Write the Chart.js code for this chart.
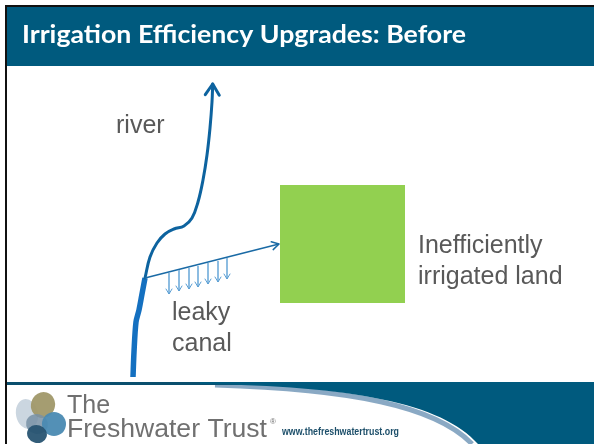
<!DOCTYPE html>
<html>
<head>
<meta charset="utf-8">
<script src="https://cdn.jsdelivr.net/npm/chart.js@4.4.1/dist/chart.umd.min.js"></script>
<style>
  html, body { margin: 0; padding: 0; background: #fff; }
  canvas { display: block; }
</style>
</head>
<body>
<canvas id="slide" width="594" height="444"></canvas>
<script>
// diagram data, in slide units (0..594 across, 0..444 down)
const riverLowX = [133, 134, 136, 139, 142, 145];
const riverLowY = [377, 352, 322, 310, 294, 278];
const riverUpX = [145, 150, 157, 165, 174, 184, 192, 198, 203, 207, 210, 212, 212.7];
const riverUpY = [278, 257, 243, 234, 229, 226, 218, 202, 180, 155, 128, 102, 84];
const canalX = [145, 279];
const canalY = [278, 244];
const leakX = [169, 179, 189, 198, 208, 218, 227];
const leakTop = [273, 270, 268, 266, 263, 261, 258];
const leakBottom = [294, 291, 289, 287, 284, 282, 279];
const landX = [280, 405];
const landY = [185, 303];

const titleText = "Irrigation Efficiency Upgrades: Before";
const labelTexts = [["river"], ["leaky", "canal"], ["Inefficiently", "irrigated land"]];
const labelAnchors = [[116, 133], [172, 320], [418, 253]];

const BLUE_DARK = "#0d639f";
const BLUE_THICK = "#1470c0";
const TEAL = "#005a7e";

function pts(xs, ys) {
  return xs.map((x, i) => ({ x, y: ys[i] }));
}

// leak arrows as one dataset with gaps between them
const leakPts = [];
leakX.forEach((x, i) => {
  leakPts.push({ x, y: leakTop[i] }, { x, y: leakBottom[i] }, { x, y: null });
});

function arrowHead(ctx, tipX, tipY, fromX, fromY, len, half, color, width) {
  const a = Math.atan2(tipY - fromY, tipX - fromX);
  ctx.save();
  ctx.strokeStyle = color;
  ctx.lineWidth = width;
  ctx.lineCap = "round";
  ctx.lineJoin = "round";
  ctx.beginPath();
  ctx.moveTo(tipX - len * Math.cos(a) + half * Math.sin(a), tipY - len * Math.sin(a) - half * Math.cos(a));
  ctx.lineTo(tipX, tipY);
  ctx.lineTo(tipX - len * Math.cos(a) - half * Math.sin(a), tipY - len * Math.sin(a) + half * Math.cos(a));
  ctx.stroke();
  ctx.restore();
}

const slideChrome = {
  id: "slideChrome",
  beforeDatasetsDraw(chart) {
    const { ctx, scales: { x, y } } = chart;
    ctx.save();
    // header band
    ctx.fillStyle = "#fff";
    ctx.fillRect(0, 0, 594, 444);
    ctx.fillStyle = "#111";
    ctx.fillRect(5, 5, 589, 2);
    ctx.fillStyle = TEAL;
    ctx.fillRect(7, 7, 587, 59);
    // title, squeezed to the width of the original
    ctx.fillStyle = "#fff";
    ctx.font = "bold 25px Lato, 'Open Sans', sans-serif";
    ctx.textBaseline = "alphabetic";
    const w = ctx.measureText(titleText).width;
    ctx.save();
    ctx.translate(22, 43);
    ctx.scale(444 / w, 1);
    ctx.fillText(titleText, 0, 0);
    ctx.restore();

    // green field
    const lx0 = x.getPixelForValue(landX[0]), lx1 = x.getPixelForValue(landX[1]);
    const ly0 = y.getPixelForValue(landY[0]), ly1 = y.getPixelForValue(landY[1]);
    ctx.fillStyle = "#92d050";
    ctx.fillRect(lx0, ly0, lx1 - lx0, ly1 - ly0);

    // footer
    ctx.fillStyle = "#fff";
    ctx.fillRect(7, 383, 587, 61);
    // light edge of the swoosh
    ctx.beginPath();
    ctx.moveTo(215, 385);
    ctx.bezierCurveTo(350, 389, 436, 406, 472, 444);
    ctx.strokeStyle = "rgba(125,160,190,0.9)";
    ctx.lineWidth = 5;
    ctx.stroke();
    ctx.fillStyle = "#0b4f6e";
    ctx.fillRect(7, 382, 587, 3);
    ctx.beginPath();
    ctx.moveTo(200, 384);
    ctx.bezierCurveTo(352, 386, 442, 403, 478, 444);
    ctx.lineTo(594, 444);
    ctx.lineTo(594, 382);
    ctx.lineTo(200, 382);
    ctx.closePath();
    ctx.fillStyle = TEAL;
    ctx.fill();

    // logo blobs
    const blobs = [
      [27, 414, 11, 15, -0.2, "rgba(200,212,222,0.95)"],
      [43, 405, 12, 13, 0.3, "rgba(160,152,105,0.95)"],
      [37, 424, 11, 10, 0.2, "rgba(120,145,165,0.85)"],
      [54, 424, 12, 12, 0.4, "rgba(74,138,178,0.95)"],
      [37, 434, 10, 9, 0.3, "rgba(40,84,114,0.95)"]
    ];
    blobs.forEach(([cx, cy, rx, ry, rot, col]) => {
      ctx.beginPath();
      ctx.ellipse(cx, cy, rx, ry, rot, 0, Math.PI * 2);
      ctx.fillStyle = col;
      ctx.fill();
    });

    ctx.fillStyle = "#707070";
    ctx.font = "25px 'Liberation Sans', Arial, sans-serif";
    ctx.fillText("The", 67, 413);
    const fw = ctx.measureText("Freshwater Trust").width;
    ctx.save();
    ctx.translate(67, 437);
    ctx.scale(200 / fw, 1);
    ctx.fillText("Freshwater Trust", 0, 0);
    ctx.restore();
    ctx.font = "8px 'Liberation Sans', Arial, sans-serif";
    ctx.fillText("®", 270, 424);
    ctx.fillStyle = "#1d4f6a";
    ctx.font = "bold 10px 'Liberation Sans', Arial, sans-serif";
    const uw = ctx.measureText("www.thefreshwatertrust.org").width;
    ctx.save();
    ctx.translate(282, 435);
    ctx.scale(117 / uw, 1);
    ctx.fillText("www.thefreshwatertrust.org", 0, 0);
    ctx.restore();

    // left border line
    ctx.fillStyle = "#111";
    ctx.fillRect(5, 5, 2, 439);
    ctx.restore();
  },
  afterDatasetsDraw(chart) {
    const { ctx, scales: { x, y } } = chart;
    const px = (v) => x.getPixelForValue(v);
    const py = (v) => y.getPixelForValue(v);
    // river arrowhead
    const n = riverUpX.length;
    arrowHead(ctx, px(riverUpX[n - 1]), py(riverUpY[n - 1]), px(riverUpX[n - 2]), py(riverUpY[n - 2]), 11, 7, BLUE_DARK, 3);
    // canal arrowhead
    arrowHead(ctx, px(canalX[1]), py(canalY[1]), px(canalX[0]), py(canalY[0]), 7, 4, "#1a6aa5", 1.5);
    // leak arrowheads
    leakX.forEach((lx, i) => {
      arrowHead(ctx, px(lx), py(leakBottom[i]), px(lx), py(leakTop[i]), 5, 3, "#5b9fd4", 1);
    });
    // labels
    ctx.save();
    ctx.fillStyle = "#595959";
    ctx.font = "25px 'Liberation Sans', Arial, sans-serif";
    ctx.textBaseline = "alphabetic";
    labelTexts.forEach((lines, i) => {
      lines.forEach((t, j) => {
        ctx.fillText(t, px(labelAnchors[i][0]), py(labelAnchors[i][1]) + j * 31);
      });
    });
    ctx.restore();
  }
};

new Chart(document.getElementById("slide"), {
  type: "scatter",
  data: {
    datasets: [
      {
        data: leakPts,
        showLine: true,
        spanGaps: false,
        borderColor: "#7db3dd",
        borderWidth: 1,
        pointRadius: 0
      },
      {
        data: pts(canalX, canalY),
        showLine: true,
        borderColor: "#1a6aa5",
        borderWidth: 1.5,
        pointRadius: 0
      },
      {
        data: pts(riverUpX, riverUpY),
        showLine: true,
        borderColor: BLUE_DARK,
        borderWidth: 3,
        tension: 0.4,
        borderCapStyle: "round",
        pointRadius: 0
      },
      {
        data: pts(riverLowX, riverLowY),
        showLine: true,
        borderColor: BLUE_THICK,
        borderWidth: 5.5,
        tension: 0.3,
        borderCapStyle: "butt",
        pointRadius: 0
      }
    ]
  },
  options: {
    responsive: false,
    animation: false,
    devicePixelRatio: 1,
    layout: { padding: 0 },
    plugins: { legend: { display: false }, tooltip: { enabled: false } },
    scales: {
      x: { type: "linear", min: 0, max: 594, display: false },
      y: { type: "linear", min: 0, max: 444, reverse: true, display: false }
    }
  },
  plugins: [slideChrome]
});
</script>
</body>
</html>
